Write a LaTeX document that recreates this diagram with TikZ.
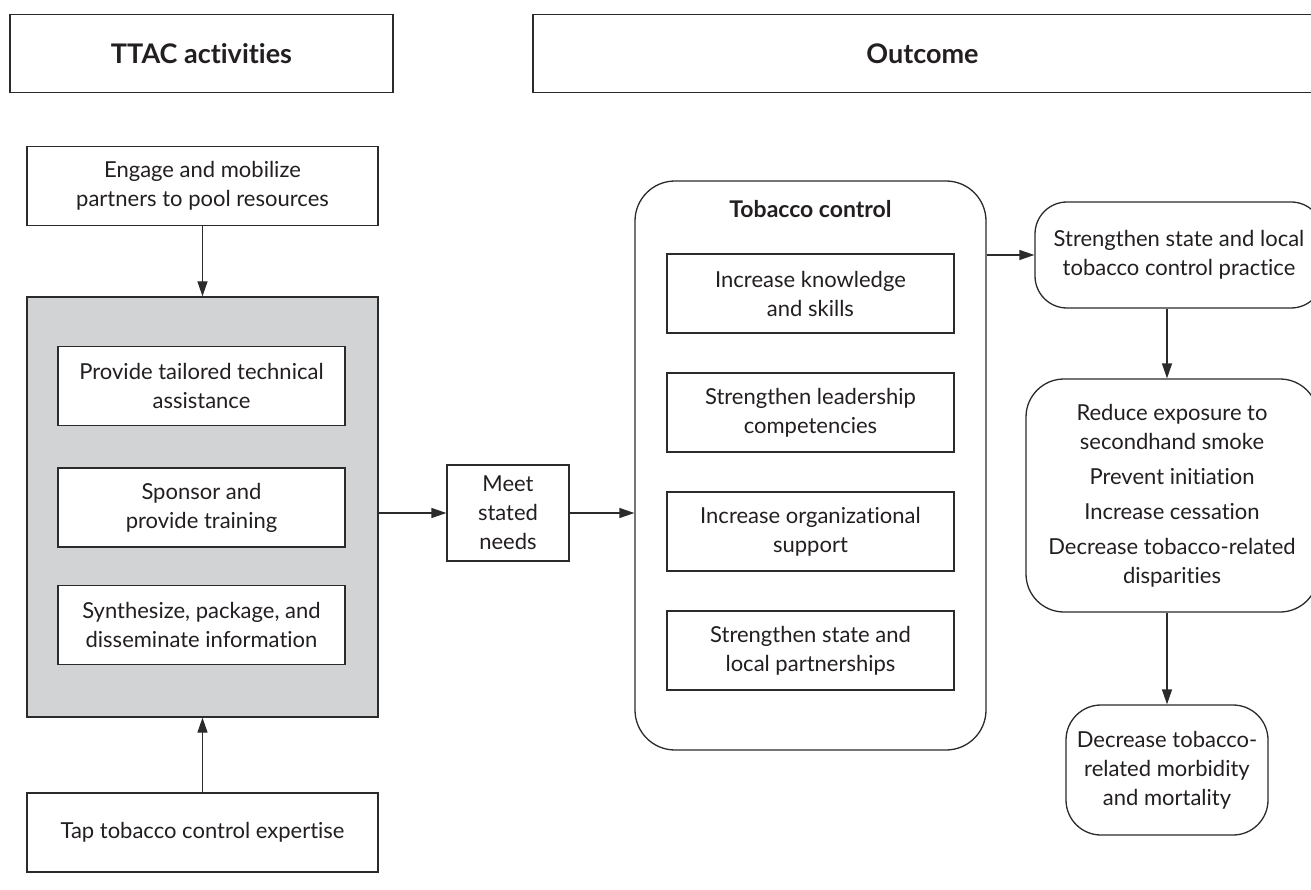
\documentclass[tikz,border=0pt]{standalone}
\usepackage{fontspec}
\setmainfont{Lato}[Ligatures=NoCommon]
\usetikzlibrary{arrows.meta,calc}
\definecolor{linec}{HTML}{2B2B2B}
\definecolor{txtc}{HTML}{231F20}
\definecolor{grayfill}{HTML}{D1D3D4}
\tikzset{
  box/.style={draw=linec, line width=1.3pt, fill=white, align=center, inner sep=0pt,
    text=txtc, font=\fontsize{22}{29}\selectfont},
  rbox/.style={box, rounded corners=#1},
  headbox/.style={box, font=\fontsize{27}{32}\selectfont\bfseries},
  conn/.style={draw=linec, line width=1.3pt, -{Triangle[length=15pt,width=10pt]}}
}
\begin{document}
\begin{tikzpicture}[x=1pt,y=-1pt]
\useasboundingbox (0,0) rectangle (1311,890);
% headers
\node[headbox, minimum width=383, minimum height=78] (ttac) at (201.5,53.5) {TTAC activities};
\node[headbox, minimum width=779, minimum height=78] (outc) at (922.5,53.5) {Outcome};
% left column
\node[box, minimum width=351, minimum height=79] (engage) at (202.5,186) {Engage and mobilize\\partners to pool resources};
\node[box, fill=grayfill, minimum width=351, minimum height=420] (gray) at (202.5,507) {};
\node[box, minimum width=287, minimum height=79] (provide) at (201.5,386) {Provide tailored technical\\assistance};
\node[box, minimum width=287, minimum height=79] (sponsor) at (201.5,507.5) {Sponsor and\\provide training};
\node[box, minimum width=287, minimum height=79] (synth) at (201.5,625) {Synthesize, package, and\\disseminate information};
\node[box, minimum width=351, minimum height=79] (tap) at (202.5,832.5) {Tap tobacco control expertise};
% middle
\node[box, minimum width=122, minimum height=96] (meet) at (508,513) {Meet\\stated\\needs};
\node[rbox=40pt, minimum width=351, minimum height=569] (tc) at (810.5,465.5) {};
\node[font=\fontsize{23}{28}\selectfont\bfseries, text=txtc] (tctitle) at (810.5,209) {Tobacco control};
\node[box, minimum width=287, minimum height=79] (tc1) at (810.5,293.5) {Increase knowledge\\and skills};
\node[box, minimum width=287, minimum height=79] (tc2) at (810.5,412.5) {Strengthen leadership\\competencies};
\node[box, minimum width=287, minimum height=79] (tc3) at (810.5,531.5) {Increase organizational\\support};
\node[box, minimum width=287, minimum height=79] (tc4) at (810.5,650.5) {Strengthen state and\\local partnerships};
% right column
\node[rbox=32pt, minimum width=288, minimum height=106] (ssl) at (1179,255) {Strengthen state and local\\tobacco control practice};
\node[rbox=38pt, minimum width=292, minimum height=233] (reduce) at (1172,495.5) {Reduce exposure to\\secondhand smoke\\[6pt]Prevent initiation\\[6pt]Increase cessation\\[6pt]Decrease tobacco-related\\disparities};
\node[rbox=35pt, minimum width=202, minimum height=130] (decr) at (1167,770) {Decrease tobacco-\\related morbidity\\and mortality};
% connectors
\draw[conn] (engage.south) -- (gray.north);
\draw[conn] (tap.north) -- (gray.south);
\draw[conn] (gray.east |- meet.west) -- (meet.west);
\draw[conn] (meet.east) -- (tc.west |- meet.east);
\draw[conn] (tc.east |- ssl.west) -- (ssl.west);
\draw[conn] (decr |- ssl.south) -- (decr |- reduce.north);
\draw[conn] (decr |- reduce.south) -- (decr.north);
\end{tikzpicture}
\end{document}
